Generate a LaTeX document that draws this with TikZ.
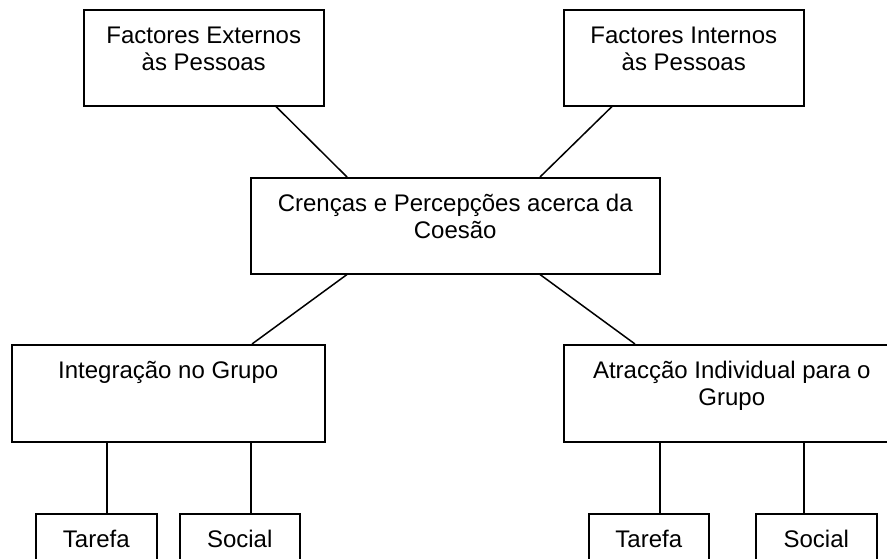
\documentclass[tikz,border=0pt]{standalone}
\usepackage{fontspec}
\setmainfont{Liberation Sans}
\newcommand{\boxtxt}[3]{\parbox[c][#2][t]{#1}{\centering\rule{0pt}{33.5pt}#3}}
\begin{document}
\begin{tikzpicture}[x=1pt,y=-1pt,
  box/.style={draw=black,line width=1.5pt,inner sep=0pt,anchor=north west,
    font=\fontsize{24}{27.6}\selectfont},
  conn/.style={draw=black,line width=1.5pt}]
\useasboundingbox (0,0) rectangle (887,558);
\node[box] (fe) at (83,9) {\boxtxt{240pt}{96pt}{Factores Externos\\às Pessoas}};
\node[box] (fi) at (563,9) {\boxtxt{240pt}{96pt}{Factores Internos\\às Pessoas}};
\node[box] (c) at (250,177) {\boxtxt{409pt}{96pt}{Crenças e Percepções acerca da\\Coesão}};
\node[box] (ig) at (11,344) {\boxtxt{313pt}{97pt}{Integração no Grupo}};
\node[box] (at) at (563,344) {\boxtxt{336pt}{97pt}{Atracção Individual para o\\Grupo}};
\node[box] (t1) at (35,513) {\boxtxt{121pt}{60pt}{Tarefa}};
\node[box] (s1) at (179,513) {\boxtxt{120pt}{60pt}{Social}};
\node[box] (t2) at (588,513) {\boxtxt{120pt}{60pt}{Tarefa}};
\node[box] (s2) at (755,513) {\boxtxt{121pt}{60pt}{Social}};
\draw[conn] ([xshift=193pt]fe.south west) -- ([xshift=97pt]c.north west);
\draw[conn] ([xshift=49pt]fi.south west) -- ([xshift=290pt]c.north west);
\draw[conn] ([xshift=97pt]c.south west) -- ([xshift=241pt]ig.north west);
\draw[conn] ([xshift=290pt]c.south west) -- ([xshift=72pt]at.north west);
\draw[conn] ([xshift=96pt]ig.south west) -- ([xshift=72pt]t1.north west);
\draw[conn] ([xshift=240pt]ig.south west) -- ([xshift=72pt]s1.north west);
\draw[conn] ([xshift=97pt]at.south west) -- ([xshift=72pt]t2.north west);
\draw[conn] ([xshift=241pt]at.south west) -- ([xshift=49pt]s2.north west);
\end{tikzpicture}
\end{document}
